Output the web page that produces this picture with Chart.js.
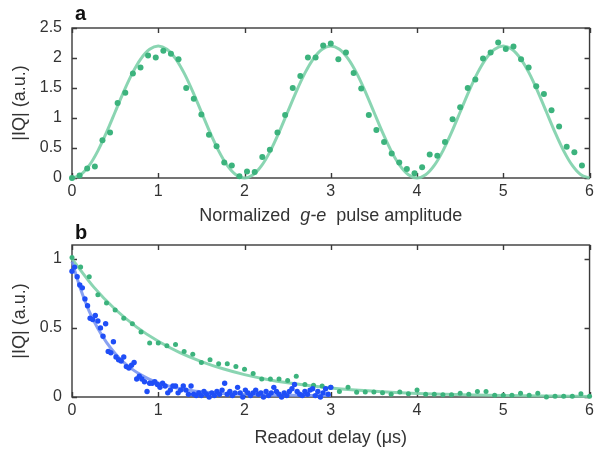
<!DOCTYPE html>
<html><head><meta charset="utf-8">
<script src="https://cdn.jsdelivr.net/npm/chart.js@4.4.1/dist/chart.umd.min.js"></script>
<style>
html,body{margin:0;padding:0;background:#fff;}
#wrap{position:relative;width:598px;height:456px;}
canvas{position:absolute;left:0;top:0;}
</style></head><body>
<div id="wrap"><canvas id="ca" width="598" height="456"></canvas><canvas id="cb" width="598" height="456"></canvas></div>
<script>
// ---------- Panel a ----------
const xTicksA = [0, 1, 2, 3, 4, 5, 6];
const yTicksA = [0, 0.5, 1, 1.5, 2, 2.5];
const ampX = [0, 0.088, 0.176, 0.265, 0.353, 0.441, 0.529, 0.618, 0.706, 0.794, 0.882, 0.971, 1.059, 1.147, 1.235, 1.324, 1.412, 1.5, 1.588, 1.676, 1.765, 1.853, 1.941, 2.029, 2.118, 2.206, 2.294, 2.382, 2.471, 2.559, 2.647, 2.735, 2.824, 2.912, 3.0, 3.088, 3.176, 3.265, 3.353, 3.441, 3.529, 3.618, 3.706, 3.794, 3.882, 3.971, 4.059, 4.147, 4.235, 4.324, 4.412, 4.5, 4.588, 4.676, 4.765, 4.853, 4.941, 5.029, 5.118, 5.206, 5.294, 5.382, 5.471, 5.559, 5.647, 5.735, 5.824, 5.912];
const ampIQ = [0, 0.04, 0.16, 0.19, 0.63, 0.76, 1.25, 1.42, 1.74, 1.84, 2.04, 2.01, 2.12, 2.07, 1.98, 1.50, 1.32, 1.06, 0.72, 0.53, 0.26, 0.21, 0.03, 0.11, 0.10, 0.35, 0.47, 0.76, 1.05, 1.50, 1.70, 2.01, 2.01, 2.21, 2.24, 1.98, 2.09, 1.75, 1.49, 1.05, 0.80, 0.60, 0.41, 0.26, 0.15, 0.08, 0.18, 0.39, 0.37, 0.60, 0.98, 1.18, 1.50, 1.64, 1.99, 2.09, 2.26, 2.15, 2.19, 1.98, 1.84, 1.53, 1.40, 1.13, 0.86, 0.52, 0.43, 0.21];
const fitAX = [0, 0.1, 0.2, 0.3, 0.4, 0.5, 0.6, 0.7, 0.8, 0.9, 1.0, 1.1, 1.2, 1.3, 1.4, 1.5, 1.6, 1.7, 1.8, 1.9, 2.0, 2.1, 2.2, 2.3, 2.4, 2.5, 2.6, 2.7, 2.8, 2.9, 3.0, 3.1, 3.2, 3.3, 3.4, 3.5, 3.6, 3.7, 3.8, 3.9, 4.0, 4.1, 4.2, 4.3, 4.4, 4.5, 4.6, 4.7, 4.8, 4.9, 5.0, 5.1, 5.2, 5.3, 5.4, 5.5, 5.6, 5.7, 5.8, 5.9, 6.0];
const fitAY = [0, 0.054, 0.21, 0.453, 0.76, 1.1, 1.44, 1.747, 1.99, 2.146, 2.2, 2.146, 1.99, 1.747, 1.44, 1.1, 0.76, 0.453, 0.21, 0.054, 0, 0.054, 0.21, 0.453, 0.76, 1.1, 1.44, 1.747, 1.99, 2.146, 2.2, 2.146, 1.99, 1.747, 1.44, 1.1, 0.76, 0.453, 0.21, 0.054, 0, 0.054, 0.21, 0.453, 0.76, 1.1, 1.44, 1.747, 1.99, 2.146, 2.2, 2.146, 1.99, 1.747, 1.44, 1.1, 0.76, 0.453, 0.21, 0.054, 0];

// ---------- Panel b ----------
const xTicksB = [0, 1, 2, 3, 4, 5, 6];
const yTicksB = [0, 0.5, 1];
const greenDelay = [0, 0.1, 0.2, 0.3, 0.4, 0.5, 0.6, 0.7, 0.8, 0.9, 1.0, 1.1, 1.2, 1.3, 1.4, 1.5, 1.6, 1.7, 1.8, 1.9, 2.0, 2.1, 2.2, 2.3, 2.4, 2.5, 2.6, 2.7, 2.8, 2.9, 3.0, 3.1, 3.2, 3.3, 3.4, 3.5, 3.6, 3.7, 3.8, 3.9, 4.0, 4.1, 4.2, 4.3, 4.4, 4.5, 4.6, 4.7, 4.8, 4.9, 5.0, 5.1, 5.2, 5.3, 5.4, 5.5, 5.6, 5.7, 5.8, 5.9, 6.0];
const greenIQ = [1.01, 0.94, 0.87, 0.74, 0.68, 0.63, 0.57, 0.53, 0.47, 0.39, 0.39, 0.37, 0.38, 0.33, 0.31, 0.25, 0.27, 0.24, 0.24, 0.22, 0.20, 0.17, 0.13, 0.13, 0.13, 0.12, 0.15, 0.09, 0.085, 0.08, 0.07, 0.04, 0.07, 0.035, 0.036, 0.036, 0.03, 0.02, 0.036, 0.024, 0.05, 0.02, 0.02, 0.017, 0.017, 0.027, 0.02, 0.04, 0.04, 0.012, 0.012, 0.012, 0.027, 0.012, 0.027, 0.0, 0.005, 0.005, 0.005, 0.024, 0.005];
const blueDelay = [0, 0.03, 0.06, 0.09, 0.12, 0.15, 0.18, 0.21, 0.24, 0.27, 0.30, 0.33, 0.36, 0.39, 0.42, 0.45, 0.48, 0.51, 0.54, 0.57, 0.60, 0.63, 0.66, 0.69, 0.72, 0.75, 0.78, 0.81, 0.84, 0.87, 0.90, 0.93, 0.96, 0.99, 1.02, 1.05, 1.08, 1.11, 1.14, 1.17, 1.20, 1.23, 1.26, 1.29, 1.32, 1.35, 1.38, 1.41, 1.44, 1.47, 1.50, 1.53, 1.56, 1.59, 1.62, 1.65, 1.68, 1.71, 1.74, 1.77, 1.80, 1.83, 1.86, 1.89, 1.92, 1.95, 1.98, 2.01, 2.04, 2.07, 2.10, 2.13, 2.16, 2.19, 2.22, 2.25, 2.28, 2.31, 2.34, 2.37, 2.40, 2.43, 2.46, 2.49, 2.52, 2.55, 2.58, 2.61, 2.64, 2.67, 2.70, 2.73, 2.76, 2.79, 2.82, 2.85, 2.88, 2.91, 2.94, 2.97, 3.00];
const blueIQ = [0.91, 0.94, 0.87, 0.81, 0.79, 0.71, 0.66, 0.57, 0.56, 0.59, 0.55, 0.50, 0.44, 0.53, 0.33, 0.32, 0.40, 0.29, 0.27, 0.26, 0.29, 0.22, 0.21, 0.23, 0.25, 0.13, 0.15, 0.13, 0.11, 0.04, 0.10, 0.10, 0.11, 0.09, 0.07, 0.10, 0.08, 0.03, 0.05, 0.08, 0.08, 0.03, 0.05, 0.08, 0.05, 0.02, 0.08, 0.02, 0.01, 0.03, 0.01, 0.04, 0.02, 0.00, 0.03, 0.01, 0.04, 0.02, 0.05, 0.10, 0.02, 0.04, 0.01, 0.03, 0.07, 0.03, 0.00, 0.05, 0.03, 0.01, 0.03, 0.05, 0.02, 0.03, 0.00, 0.04, 0.01, 0.03, 0.07, 0.04, 0.02, 0.00, 0.03, 0.01, 0.04, 0.06, 0.09, 0.04, 0.02, 0.01, 0.04, 0.02, 0.05, 0.06, 0.01, 0.04, 0.00, 0.03, 0.06, 0.02, 0.07];
const fitGreenX = [0, 0.25, 0.5, 0.75, 1, 1.25, 1.5, 1.75, 2, 2.25, 2.5, 3, 3.5, 4, 4.5, 5, 5.5, 6];
const fitGreenY = [1.0, 0.797, 0.635, 0.506, 0.403, 0.321, 0.256, 0.204, 0.162, 0.129, 0.103, 0.065, 0.042, 0.026, 0.017, 0.011, 0.007, 0.004];
const fitBlueX = [0, 0.1, 0.2, 0.3, 0.4, 0.5, 0.6, 0.7, 0.8, 0.9, 1.0, 1.2, 1.4, 1.6, 1.8, 2.0, 2.5, 3.0];
const fitBlueY = [0.98, 0.78, 0.62, 0.495, 0.395, 0.315, 0.25, 0.20, 0.16, 0.127, 0.102, 0.067, 0.045, 0.032, 0.023, 0.018, 0.012, 0.01];

const GREEN_PT = '#3cb37d';
const GREEN_LN = 'rgba(125,208,170,0.9)';
const BLUE_PT = '#1f4ef7';
const BLUE_LN = 'rgba(115,145,240,0.85)';
const TXT = '#333333';
const FONT = "'Liberation Sans', Arial, sans-serif";

const pts = (xs, ys) => xs.map((x, i) => ({x: x, y: ys[i]}));

function framePlugin(xT, yT, letter, letterY, customTitle) {
  return {
    id: 'frame' + letter,
    beforeDatasetsDraw(chart) {
      const {ctx, chartArea: a, scales} = chart;
      ctx.save();
      ctx.strokeStyle = '#3a3a3a';
      ctx.lineWidth = 1.4;
      ctx.strokeRect(a.left, a.top, a.right - a.left, a.bottom - a.top);
      const L = 5;
      ctx.beginPath();
      xT.forEach(v => {
        const px = Math.round(scales.x.getPixelForValue(v)) + 0.5;
        ctx.moveTo(px, a.bottom); ctx.lineTo(px, a.bottom - L);
        ctx.moveTo(px, a.top); ctx.lineTo(px, a.top + L);
      });
      yT.forEach(v => {
        const py = Math.round(scales.y.getPixelForValue(v)) + 0.5;
        ctx.moveTo(a.left, py); ctx.lineTo(a.left + L, py);
        ctx.moveTo(a.right, py); ctx.lineTo(a.right - L, py);
      });
      ctx.stroke();
      ctx.restore();
    },
    afterDraw(chart) {
      const {ctx, chartArea: a} = chart;
      ctx.save();
      ctx.fillStyle = '#111';
      ctx.font = "bold 20px " + FONT;
      ctx.textBaseline = 'alphabetic';
      ctx.textAlign = 'left';
      ctx.fillText(letter, 75, letterY);
      if (customTitle) {
        const parts = customTitle.parts;
        ctx.fillStyle = TXT;
        let total = 0;
        parts.forEach(p => { ctx.font = (p.italic ? 'italic ' : '') + '18px ' + FONT; p.w = ctx.measureText(p.t).width; total += p.w; });
        let x = (a.left + a.right) / 2 - total / 2;
        ctx.textBaseline = 'middle';
        parts.forEach(p => { ctx.font = (p.italic ? 'italic ' : '') + '18px ' + FONT; ctx.fillText(p.t, x, customTitle.y); x += p.w; });
      }
      ctx.restore();
    }
  };
}

function baseScales(xT, yT, ymax, xH, xTitle) {
  return {
    x: {
      type: 'linear', min: 0, max: 6,
      afterBuildTicks: s => { s.ticks = xT.map(v => ({value: v})); },
      grid: {display: false, drawTicks: false}, border: {display: false},
      ticks: {padding: 4, color: TXT, font: {size: 16, family: FONT}, maxRotation: 0, autoSkip: false, callback: v => String(v)},
      afterFit: s => { s.height = xH; },
      title: xTitle ? {display: true, text: xTitle, color: TXT, font: {size: 18, family: FONT}, padding: {top: 0, bottom: 7}} : {display: false}
    },
    y: {
      type: 'linear', min: 0, max: ymax,
      afterBuildTicks: s => { s.ticks = yT.map(v => ({value: v})); },
      grid: {display: false, drawTicks: false}, border: {display: false},
      ticks: {padding: 10, color: TXT, font: {size: 16, family: FONT}, autoSkip: false, callback: v => String(v)},
      afterFit: s => { s.width = 72; },
      title: {display: true, text: '|IQ| (a.u.)', color: TXT, font: {size: 18, family: FONT}, padding: {top: 9, bottom: 0}}
    }
  };
}

Chart.defaults.font.family = FONT;

new Chart(document.getElementById('ca'), {
  type: 'scatter',
  data: {
    datasets: [
      {label: 'g-e data', data: pts(ampX, ampIQ), pointRadius: 3, pointHoverRadius: 3, pointBackgroundColor: GREEN_PT, pointBorderWidth: 0, showLine: false, clip: false},
      {label: 'fit', data: pts(fitAX, fitAY), showLine: true, pointRadius: 0, borderColor: GREEN_LN, borderWidth: 3, cubicInterpolationMode: 'monotone', clip: false}
    ]
  },
  options: {
    responsive: false, animation: false, events: [],
    layout: {padding: {top: 28, right: 4, bottom: 228, left: 0}},
    plugins: {legend: {display: false}, tooltip: {enabled: false}},
    scales: baseScales(xTicksA, yTicksA, 2.5, 50, null)
  },
  plugins: [framePlugin(xTicksA, yTicksA, 'a', 20, {y: 216, parts: [{t: 'Normalized  '}, {t: 'g-e', italic: true}, {t: '  pulse amplitude'}]})]
});

new Chart(document.getElementById('cb'), {
  type: 'scatter',
  data: {
    datasets: [
      {label: 'blue data', data: pts(blueDelay, blueIQ), pointRadius: 2.7, pointHoverRadius: 2.7, pointBackgroundColor: BLUE_PT, pointBorderWidth: 0, showLine: false, clip: false},
      {label: 'green data', data: pts(greenDelay, greenIQ), pointRadius: 2.5, pointHoverRadius: 2.5, pointBackgroundColor: GREEN_PT, pointBorderWidth: 0, showLine: false, clip: false},
      {label: 'blue fit', data: pts(fitBlueX, fitBlueY), showLine: true, pointRadius: 0, borderColor: BLUE_LN, borderWidth: 3, cubicInterpolationMode: 'monotone', clip: false},
      {label: 'green fit', data: pts(fitGreenX, fitGreenY), showLine: true, pointRadius: 0, borderColor: GREEN_LN, borderWidth: 3, cubicInterpolationMode: 'monotone', clip: false}
    ]
  },
  options: {
    responsive: false, animation: false, events: [],
    layout: {padding: {top: 245, right: 4, bottom: 0, left: 0}},
    plugins: {legend: {display: false}, tooltip: {enabled: false}},
    scales: baseScales(xTicksB, yTicksB, 1.1, 59, 'Readout delay (\u03bcs)')
  },
  plugins: [framePlugin(xTicksB, yTicksB, 'b', 239, null)]
});
</script>
</body></html>
